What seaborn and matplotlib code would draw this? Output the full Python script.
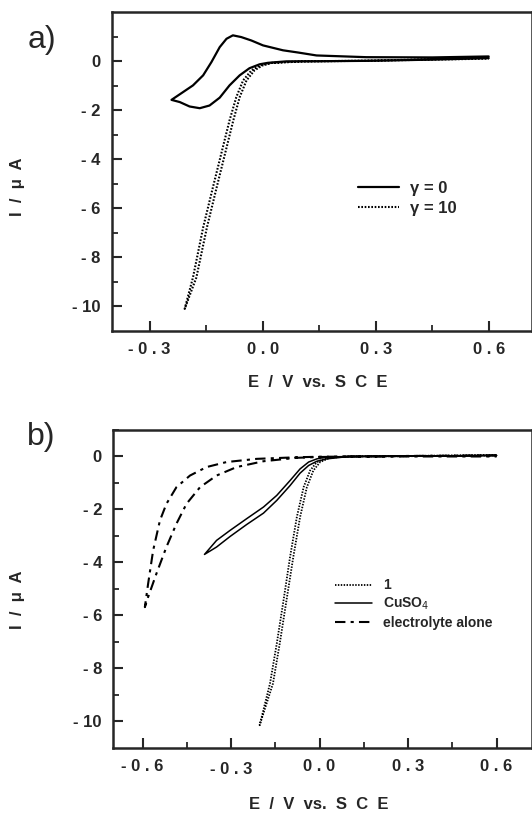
import numpy as np
import pandas as pd
import matplotlib
matplotlib.use("Agg")
import matplotlib.pyplot as plt
import seaborn as sns
from matplotlib.transforms import ScaledTranslation

# panel a, gamma = 0 : cathodic branch (0.6 -> vertex) then anodic branch back
a0_fwd_E = [0.6, 0.45, 0.275, 0.15, 0.063, 0.014, -0.008, -0.035, -0.061, -0.088,
            -0.114, -0.141, -0.167, -0.194, -0.220, -0.242]
a0_fwd_I = [0.12, 0.06, 0.01, -0.005, -0.01, -0.07, -0.13, -0.29, -0.58, -0.99,
            -1.49, -1.81, -1.92, -1.85, -1.67, -1.58]
a0_rev_E = [-0.242, -0.212, -0.185, -0.158, -0.136, -0.114, -0.096, -0.079, -0.057,
            -0.030, 0.001, 0.054, 0.094, 0.143, 0.275, 0.45, 0.6]
a0_rev_I = [-1.58, -1.27, -0.99, -0.58, -0.04, 0.57, 0.91, 1.05, 0.98,
            0.84, 0.64, 0.44, 0.35, 0.23, 0.16, 0.15, 0.19]

# panel a, gamma = 10
a10_fwd_E = [0.6, 0.3, 0.1, 0.019, -0.008, -0.030, -0.052, -0.070, -0.088, -0.110,
             -0.132, -0.158, -0.185, -0.207]
a10_fwd_I = [0.14, 0.02, -0.02, -0.08, -0.18, -0.38, -0.79, -1.47, -2.42, -3.78,
             -5.14, -6.78, -8.82, -10.1]
a10_rev_E = [-0.207, -0.176, -0.148, -0.122, -0.100, -0.078, -0.061, -0.043, -0.022,
             -0.001, 0.025, 0.1, 0.3, 0.6]
a10_rev_I = [-10.1, -8.82, -6.78, -5.14, -3.78, -2.42, -1.47, -0.79, -0.38,
             -0.18, -0.07, -0.01, 0.02, 0.1]

# panel b, compound 1
b1_fwd_E = [0.6, 0.3, 0.1, 0.025, -0.009, -0.032, -0.054, -0.077, -0.100, -0.122,
            -0.145, -0.168, -0.203]
b1_fwd_I = [0.04, 0.01, 0.0, -0.05, -0.21, -0.53, -1.16, -2.29, -3.80, -5.43,
            -7.07, -8.58, -10.15]
b1_rev_E = [-0.203, -0.158, -0.135, -0.112, -0.089, -0.066, -0.043, -0.021, 0.002,
            0.035, 0.1, 0.3, 0.6]
b1_rev_I = [-10.15, -8.58, -7.07, -5.43, -3.80, -2.29, -1.16, -0.53, -0.21,
            -0.05, 0.0, 0.02, 0.06]

# panel b, CuSO4
bc_fwd_E = [0.6, 0.3, 0.1, 0.025, -0.009, -0.037, -0.066, -0.100, -0.145, -0.190,
            -0.247, -0.303, -0.349, -0.39]
bc_fwd_I = [0.04, 0.01, 0.0, -0.09, -0.18, -0.34, -0.63, -1.10, -1.66, -2.14,
            -2.57, -3.02, -3.42, -3.70]
bc_rev_E = [-0.39, -0.349, -0.303, -0.247, -0.190, -0.145, -0.100, -0.066, -0.037,
            -0.009, 0.025, 0.1, 0.3, 0.6]
bc_rev_I = [-3.70, -3.17, -2.79, -2.35, -1.91, -1.47, -0.91, -0.47, -0.21,
            -0.09, -0.02, 0.0, 0.01, 0.04]

# panel b, electrolyte alone
be_fwd_E = [0.6, 0.3, 0.0, -0.077, -0.190, -0.281, -0.349, -0.405, -0.451, -0.485,
            -0.519, -0.553, -0.581, -0.592]
be_fwd_I = [0.04, 0.02, -0.02, -0.05, -0.18, -0.40, -0.72, -1.16, -1.79, -2.54,
            -3.42, -4.43, -5.31, -5.69]
be_rev_E = [-0.592, -0.581, -0.564, -0.541, -0.519, -0.485, -0.439, -0.383, -0.315,
            -0.213, -0.077, 0.0, 0.3, 0.6]
be_rev_I = [-5.69, -4.81, -3.55, -2.42, -1.79, -1.16, -0.72, -0.40, -0.21,
            -0.09, -0.03, -0.01, 0.0, 0.0]

a_xticks = [-0.3, 0.0, 0.3, 0.6]
a_xlabels = ["- 0 . 3", "0 . 0", "0 . 3", "0 . 6"]
b_xticks = [-0.6, -0.3, 0.0, 0.3, 0.6]
b_xlabels = ["- 0 . 6", "- 0 . 3", "0 . 0", "0 . 3", "0 . 6"]
yticks = [0, -2, -4, -6, -8, -10]
ylabels = ["0", "- 2", "- 4", "- 6", "- 8", "- 10"]

sns.set_style("ticks")
plt.rcParams['font.family'] = ['Liberation Sans', 'DejaVu Sans']

fig = plt.figure(figsize=(5.32, 8.13), dpi=100)
ax_a = fig.add_axes([0.2105, 0.5929, 0.7895, 0.3923])
ax_b = fig.add_axes([0.2124, 0.0803, 0.7876, 0.3908])


def draw(ax, fwd_E, fwd_I, rev_E, rev_I, **kw):
    df = pd.DataFrame({"E": fwd_E + rev_E, "I": fwd_I + rev_I})
    sns.lineplot(data=df, x="E", y="I", sort=False, estimator=None, ax=ax,
                 color="black", **kw)


draw(ax_a, a0_fwd_E, a0_fwd_I, a0_rev_E, a0_rev_I, linewidth=1.6, label="\u03b3 = 0")
draw(ax_a, a10_fwd_E, a10_fwd_I, a10_rev_E, a10_rev_I, linewidth=1.5,
     linestyle=(0, (0.8, 0.8)), label="\u03b3 = 10")

draw(ax_b, b1_fwd_E, b1_fwd_I, b1_rev_E, b1_rev_I, linewidth=1.3,
     linestyle=(0, (0.8, 0.8)), label="1")
draw(ax_b, bc_fwd_E, bc_fwd_I, bc_rev_E, bc_rev_I, linewidth=1.1, label="CuSO$_4$")
draw(ax_b, be_fwd_E, be_fwd_I, be_rev_E, be_rev_I, linewidth=1.5,
     linestyle=(0, (5, 2.5, 1.5, 2.5)), label="electrolyte alone")

ax_a.set_xlim(-0.4, 0.715)
ax_a.set_ylim(-11, 2)
ax_b.set_xlim(-0.7, 0.72)
ax_b.set_ylim(-11, 1)

for ax, xt, xl in [(ax_a, a_xticks, a_xlabels), (ax_b, b_xticks, b_xlabels)]:
    ax.set_xticks(xt)
    ax.set_xticklabels(xl)
    ax.set_yticks(yticks)
    ax.set_yticklabels(ylabels)
    ax.set_xticks([v + 0.15 for v in xt[:-1]], minor=True)
    ax.set_yticks([1, -1, -3, -5, -7, -9], minor=True)
    ax.tick_params(which="major", direction="in", length=7, width=1.5, labelsize=12, pad=8)
    ax.tick_params(which="minor", direction="in", length=4, width=1.3)
    for lab in ax.get_xticklabels() + ax.get_yticklabels():
        lab.set_fontweight("bold")
    for sp in ax.spines.values():
        sp.set_linewidth(1.8)
        sp.set_visible(True)
    ax.set_xlabel("E  /  V  vs.  S  C  E", fontsize=12, fontweight="bold", va="center")
    ax.set_ylabel("I  /  \u03bc  A", fontsize=12, fontweight="bold", va="center")

ax_a.xaxis.set_label_coords(0.49, -0.163)
ax_a.yaxis.set_label_coords(-0.224, 0.451)
ax_b.xaxis.set_label_coords(0.49, -0.18)
ax_b.yaxis.set_label_coords(-0.227, 0.465)

# the "-0.3" label in panel b sits a little lower
lab = ax_b.get_xticklabels()[1]
lab.set_transform(lab.get_transform() + ScaledTranslation(0, -2.2 / 72, fig.dpi_scale_trans))

ax_a.legend(loc="upper left", bbox_to_anchor=(0.551, 0.517), frameon=False,
            handlelength=2.45, handletextpad=0.65, labelspacing=0.3,
            prop={"size": 12, "weight": "bold"})
ax_b.legend(loc="upper left", bbox_to_anchor=(0.501, 0.572), frameon=False,
            handlelength=2.65, handletextpad=0.75, labelspacing=0.25,
            prop={"size": 10, "weight": "bold"})

fig.text(0.051, 0.951, "a)", fontsize=23, va="center")
fig.text(0.051, 0.463, "b)", fontsize=23, va="center")

fig.savefig("out.png", dpi=100)
